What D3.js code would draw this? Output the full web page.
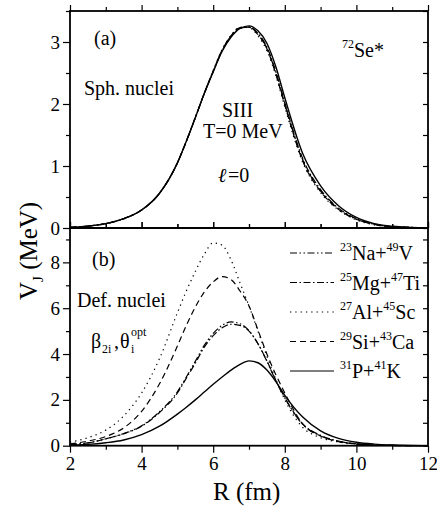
<!DOCTYPE html>
<html><head><meta charset="utf-8">
<script src="https://cdn.jsdelivr.net/npm/d3@7"></script>
<style>body{margin:0;background:#fff}svg{display:block}</style>
</head><body><svg id="c" width="437" height="509" font-family="'Liberation Serif','Times New Roman',Times,'DejaVu Serif',serif"></svg>
<script>
const FONT = "'Liberation Serif','Times New Roman',Times,'DejaVu Serif',serif";
const R = [2,2.5,3,3.5,4,4.5,5,5.25,5.5,5.75,6,6.25,6.5,6.75,7,7.25,7.5,7.75,8,8.5,9,9.5,10,10.5,11,11.5,12];
// panel (a) spherical nuclei
const aPK   = [0.01,0.03,0.07,0.15,0.29,0.56,1.05,1.40,1.78,2.17,2.52,2.85,3.08,3.22,3.26,3.18,2.98,2.60,2.10,1.20,0.68,0.36,0.17,0.07,0.03,0.01,0.0];
const aNaV  = [0.01,0.03,0.07,0.15,0.29,0.56,1.05,1.40,1.78,2.17,2.53,2.87,3.10,3.23,3.24,3.13,2.90,2.50,2.00,1.10,0.60,0.31,0.14,0.06,0.02,0.01,0.0];
const aMgTi = [0.01,0.03,0.07,0.15,0.29,0.56,1.05,1.40,1.78,2.17,2.52,2.86,3.09,3.22,3.24,3.14,2.92,2.52,2.02,1.12,0.62,0.32,0.15,0.06,0.02,0.01,0.0];
const aAlSc = [0.01,0.03,0.07,0.15,0.29,0.56,1.05,1.40,1.78,2.17,2.54,2.88,3.11,3.24,3.23,3.10,2.86,2.46,1.95,1.06,0.57,0.29,0.13,0.05,0.02,0.0,0.0];
const aSiCa = [0.01,0.03,0.07,0.15,0.29,0.56,1.05,1.40,1.78,2.17,2.53,2.87,3.10,3.23,3.24,3.12,2.89,2.48,1.98,1.08,0.59,0.30,0.14,0.06,0.02,0.01,0.0];
// panel (b) deformed nuclei
const bNaV  = [0.05,0.12,0.30,0.53,0.87,1.48,2.35,3.00,3.68,4.38,4.90,5.25,5.40,5.32,5.02,4.45,3.68,2.83,2.08,0.93,0.43,0.19,0.08,0.03,0.01,0.0,0.0];
const bMgTi = [0.05,0.12,0.30,0.52,0.85,1.45,2.30,2.95,3.60,4.30,4.80,5.15,5.30,5.25,5.00,4.45,3.70,2.85,2.10,0.95,0.45,0.20,0.08,0.03,0.01,0.0,0.0];
const bAlSc = [0.15,0.35,0.68,1.30,2.30,3.80,5.80,6.75,7.60,8.35,8.85,8.75,8.10,7.10,6.10,5.00,3.90,2.90,2.00,0.80,0.35,0.16,0.08,0.03,0.01,0.0,0.0];
const bSiCa = [0.08,0.20,0.40,0.78,1.50,2.70,4.35,5.25,6.05,6.70,7.15,7.38,7.25,6.75,6.10,5.05,4.00,3.10,2.30,0.95,0.42,0.18,0.07,0.03,0.01,0.0,0.0];
const bPK   = [0.03,0.06,0.13,0.25,0.48,0.85,1.38,1.68,2.00,2.34,2.68,3.00,3.30,3.55,3.70,3.62,3.30,2.80,2.20,1.25,0.65,0.32,0.15,0.07,0.03,0.01,0.0];

const xTicks = [2,4,6,8,10,12];
const aTicks = [0,1,2,3];
const bTicks = [0,2,4,6,8];
const legendNames = [["23","Na+","49","V"],["25","Mg+","47","Ti"],["27","Al+","45","Sc"],["29","Si+","43","Ca"],["31","P+","41","K"]];
const dashes = ["7,2.5,1.5,2.5,1.5,2.5","7,2.5,1.5,2.5","1.3,4","6,4",null];

const svg = d3.select("#c");
const L=70, Rt=428, aTop=11, mid=228, bBot=445.7;
const x = d3.scaleLinear().domain([2,12]).range([L,Rt]);
const ya = d3.scaleLinear().domain([0,3.5]).range([mid,aTop]);
const yb = d3.scaleLinear().domain([0,9.5]).range([bBot,mid]);

function axes(y, majors, minorStep, top, bottom, showX){
  const ymax = y.domain()[1];
  const minors = d3.range(0, ymax+1e-9, minorStep).filter(v=>!majors.includes(v));
  const xMinors = d3.range(2,12.01,1).filter(v=>!xTicks.includes(v));
  const g = svg.append("g");
  g.append("g").attr("transform",`translate(${L},0)`).call(d3.axisLeft(y).tickValues(majors).tickSize(7).tickPadding(3).tickFormat(d3.format("d")))
   .call(s=>{s.select(".domain").remove();s.attr("font-family",FONT).attr("font-size",19);});
  g.append("g").attr("transform",`translate(${L},0)`).call(d3.axisLeft(y).tickValues(minors).tickSize(4).tickFormat(""))
   .call(s=>s.select(".domain").remove());
  g.append("g").attr("transform",`translate(${Rt},0)`).call(d3.axisRight(y).tickValues(majors.concat(minors)).tickSize(-5).tickFormat(""))
   .call(s=>s.select(".domain").remove());
  g.append("g").attr("transform",`translate(0,${top})`).call(d3.axisBottom(x).tickValues(xTicks).tickSize(-6).tickFormat(""))
   .call(s=>s.select(".domain").remove());
  g.append("g").attr("transform",`translate(0,${top})`).call(d3.axisBottom(x).tickValues(xMinors).tickSize(-4).tickFormat(""))
   .call(s=>s.select(".domain").remove());
  if(showX){
    g.append("g").attr("transform",`translate(0,${bottom})`).call(d3.axisBottom(x).tickValues(xTicks).tickSize(7).tickPadding(4).tickFormat(d3.format("d")))
     .call(s=>{s.select(".domain").remove();s.attr("font-family",FONT).attr("font-size",19);});
    g.append("g").attr("transform",`translate(0,${bottom})`).call(d3.axisBottom(x).tickValues(xMinors).tickSize(4).tickFormat(""))
     .call(s=>s.select(".domain").remove());
  } else {
    g.append("g").attr("transform",`translate(0,${bottom})`).call(d3.axisTop(x).tickValues(xTicks).tickSize(6).tickFormat(""))
     .call(s=>s.select(".domain").remove());
    g.append("g").attr("transform",`translate(0,${bottom})`).call(d3.axisTop(x).tickValues(xMinors).tickSize(4).tickFormat(""))
     .call(s=>s.select(".domain").remove());
  }
  g.selectAll(".tick line").attr("stroke","#000").attr("stroke-width",1.2);
  g.selectAll(".tick text").attr("fill","#000");
  g.append("rect").attr("x",L).attr("y",top).attr("width",Rt-L).attr("height",bottom-top)
   .attr("fill","none").attr("stroke","#000").attr("stroke-width",1.8);
}
axes(ya, aTicks, 0.5, aTop, mid, false);
axes(yb, bTicks, 1, mid, bBot, true);

function curve(y, vals, dash){
  const line = d3.line().x((d,i)=>x(R[i])).y(d=>y(d)).curve(d3.curveMonotoneX);
  svg.append("path").attr("d",line(vals)).attr("fill","none").attr("stroke","#000")
    .attr("stroke-width",dash?1.2:1.4).attr("stroke-dasharray",dash||null);
}
const aSeries=[aNaV,aMgTi,aAlSc,aSiCa,aPK], bSeries=[bNaV,bMgTi,bAlSc,bSiCa,bPK];
aSeries.forEach((s,i)=>curve(ya,s,dashes[i]));
bSeries.forEach((s,i)=>curve(yb,s,dashes[i]));

function mk(xx,yy,size){return svg.append("text").attr("x",xx).attr("y",yy).attr("font-size",size).attr("font-family",FONT).attr("fill","#000");}

legendNames.forEach((n,i)=>{
  const yy = 253 + i*29.5;
  svg.append("line").attr("x1",290).attr("x2",334).attr("y1",yy).attr("y2",yy)
    .attr("stroke","#000").attr("stroke-width",1.2).attr("stroke-dasharray",dashes[i]);
  const t = mk(340,yy+7,20);
  t.append("tspan").attr("font-size",12).attr("dy",-9).text(n[0]);
  t.append("tspan").attr("dy",9).text(n[1]);
  t.append("tspan").attr("font-size",12).attr("dy",-9).text(n[2]);
  t.append("tspan").attr("dy",9).text(n[3]);
});

function txt(xx,yy,s,size){return mk(xx,yy,size).text(s);}
txt(94,45,"(a)",20);
txt(84,95,"Sph. nuclei",20);
txt(222,117,"SIII",20);
txt(203,138,"T=0 MeV",20);
txt(218,182,"ℓ",20).attr("font-style","italic");
txt(228,182,"=0",20);
const se = mk(342,57,20);
se.append("tspan").attr("font-size",12).attr("dy",-9).text("72");
se.append("tspan").attr("dy",9).text("Se*");

txt(92,266,"(b)",20);
txt(77,307,"Def. nuclei",20);
txt(91,348,"β",20);
txt(102,353,"2i",12);
txt(114,348,",",20);
txt(120,348,"θ",20);
txt(131,353,"i",12);
txt(131,336,"opt",12);

txt(213,500,"R (fm)",25);
const yl = svg.append("text").attr("transform","translate(37,300) rotate(-90)").attr("font-size",25).attr("font-family",FONT).attr("fill","#000");
yl.append("tspan").text("V");
yl.append("tspan").attr("font-size",15).attr("dy",6).text("J");
yl.append("tspan").attr("dy",-6).text(" (MeV)");
</script></body></html>
